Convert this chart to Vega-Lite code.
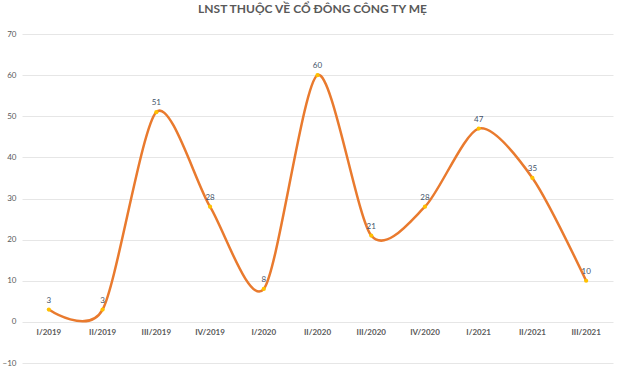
{
  "$schema": "https://vega.github.io/schema/vega-lite/v6.json",
  "width": 591,
  "height": 329,
  "autosize": "none",
  "padding": {"left": 22, "top": 34, "right": 11, "bottom": 11},
  "background": "white",
  "title": {
    "text": "LNST THUỘC VỀ CỔ ĐÔNG CÔNG TY MẸ",
    "font": "Lato",
    "fontSize": 12,
    "fontWeight": "bold",
    "color": "#595959",
    "anchor": "middle",
    "dx": -5,
    "offset": 14
  },
  "data": {
    "values": [
      {"quarter": "I/2019", "value": 3},
      {"quarter": "II/2019", "value": 3},
      {"quarter": "III/2019", "value": 51},
      {"quarter": "IV/2019", "value": 28},
      {"quarter": "I/2020", "value": 8},
      {"quarter": "II/2020", "value": 60},
      {"quarter": "III/2020", "value": 21},
      {"quarter": "IV/2020", "value": 28},
      {"quarter": "I/2021", "value": 47},
      {"quarter": "II/2021", "value": 35},
      {"quarter": "III/2021", "value": 10}
    ]
  },
  "encoding": {
    "x": {
      "field": "quarter",
      "type": "nominal",
      "sort": null,
      "scale": {"type": "band", "paddingInner": 0, "paddingOuter": 0},
      "axis": {
        "title": null,
        "labelAngle": 0,
        "domain": false,
        "ticks": false,
        "grid": false,
        "offset": -41,
        "labelPadding": 6,
        "labelFont": "Lato",
        "labelFontSize": 8,
        "labelFontWeight": "bold",
        "labelColor": "#595959"
      }
    },
    "y": {
      "field": "value",
      "type": "quantitative",
      "scale": {"domain": [-10, 70], "nice": false},
      "axis": {
        "title": null,
        "values": [-10, 0, 10, 20, 30, 40, 50, 60, 70],
        "domain": false,
        "ticks": false,
        "labelPadding": 6,
        "labelFont": "Lato",
        "labelFontSize": 8,
        "labelColor": "#595959",
        "gridColor": "#e6e6e6",
        "gridWidth": 1
      }
    }
  },
  "layer": [
    {
      "mark": {"type": "line", "interpolate": "cardinal", "tension": 0.2, "color": "#E97A2E", "strokeWidth": 2.5}
    },
    {
      "mark": {"type": "point", "shape": "circle", "filled": true, "color": "#FFC000", "size": 18, "opacity": 1}
    },
    {
      "mark": {"type": "text", "dy": -9, "font": "Lato", "fontSize": 8, "color": "#44546A"},
      "encoding": {"text": {"field": "value", "type": "quantitative"}}
    }
  ],
  "config": {"view": {"stroke": null}}
}
